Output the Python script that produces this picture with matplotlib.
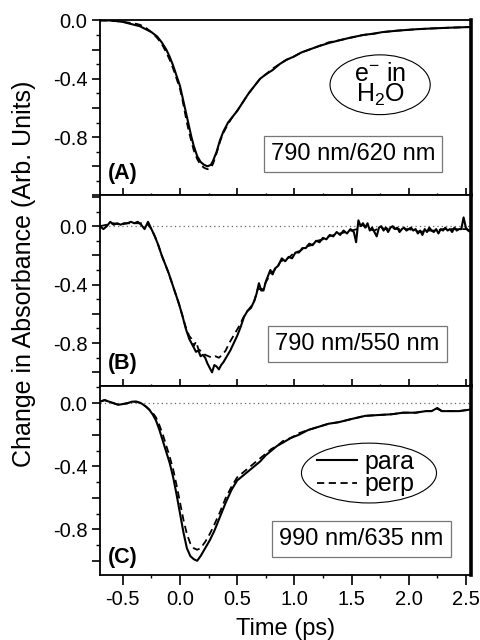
import matplotlib
matplotlib.use("Agg")
import matplotlib.pyplot as plt
from matplotlib.patches import Ellipse
from matplotlib.ticker import MultipleLocator, FuncFormatter

plt.rcParams["font.family"] = ["Liberation Sans", "DejaVu Sans"]
plt.rcParams["mathtext.default"] = "regular"
plt.rcParams["axes.unicode_minus"] = False

# ---- panel A: 790 nm / 620 nm ----
a_t_para = [-0.70, -0.62, -0.55, -0.50, -0.45, -0.40, -0.35, -0.30, -0.25, -0.20, -0.16, -0.12,
            -0.09, -0.06, -0.03, 0.00, 0.02, 0.04, 0.06, 0.08, 0.10, 0.12, 0.15, 0.18, 0.21, 0.24,
            0.27, 0.29, 0.32, 0.35, 0.38, 0.42, 0.46, 0.50, 0.55, 0.60, 0.65, 0.70, 0.75, 0.81,
            0.87, 0.93, 0.99, 1.06, 1.13, 1.20, 1.30, 1.40, 1.48, 1.60, 1.70, 1.77, 1.90, 2.07,
            2.20, 2.35, 2.54]
a_v_para = [0.00, 0.00, -0.005, -0.01, -0.02, -0.03, -0.04, -0.06, -0.08, -0.11, -0.15, -0.20,
            -0.25, -0.31, -0.38, -0.45, -0.52, -0.59, -0.66, -0.73, -0.80, -0.86, -0.93, -0.97,
            -0.99, -1.00, -0.99, -0.96, -0.90, -0.82, -0.76, -0.70, -0.66, -0.62, -0.56, -0.50,
            -0.45, -0.40, -0.37, -0.34, -0.30, -0.27, -0.25, -0.22, -0.20, -0.18, -0.155, -0.135,
            -0.12, -0.10, -0.09, -0.08, -0.07, -0.06, -0.055, -0.05, -0.045]
a_t_perp = [-0.70, -0.62, -0.55, -0.50, -0.45, -0.40, -0.35, -0.30, -0.25, -0.20, -0.16, -0.12,
            -0.09, -0.06, -0.03, 0.00, 0.02, 0.04, 0.06, 0.08, 0.10, 0.12, 0.15, 0.18, 0.21, 0.24,
            0.27, 0.29, 0.32, 0.35, 0.38, 0.42, 0.46, 0.50, 0.55, 0.60, 0.65, 0.70, 0.75, 0.81,
            0.87, 0.93, 0.99, 1.06, 1.13, 1.20, 1.30, 1.40, 1.48, 1.60, 1.70, 1.77, 1.90, 2.07,
            2.20, 2.35, 2.54]
a_v_perp = [0.00, 0.00, -0.005, -0.01, -0.015, -0.02, -0.03, -0.05, -0.08, -0.12, -0.16, -0.22,
            -0.27, -0.33, -0.40, -0.47, -0.54, -0.62, -0.70, -0.77, -0.83, -0.89, -0.95, -0.99,
            -1.01, -1.02, -1.01, -0.98, -0.91, -0.83, -0.77, -0.71, -0.66, -0.62, -0.56, -0.50,
            -0.45, -0.40, -0.37, -0.33, -0.30, -0.27, -0.25, -0.22, -0.20, -0.18, -0.15, -0.135,
            -0.12, -0.10, -0.09, -0.08, -0.07, -0.06, -0.055, -0.05, -0.045]

# ---- panel B: 790 nm / 550 nm ----
b_t_para = [-0.70, -0.67, -0.64, -0.61, -0.58, -0.55, -0.52, -0.49, -0.46, -0.43, -0.40, -0.37,
            -0.34, -0.31, -0.28, -0.25, -0.22, -0.19, -0.16, -0.13, -0.10, -0.07, -0.04, -0.01,
            0.02, 0.05, 0.08, 0.10, 0.12, 0.14, 0.16, 0.18, 0.20, 0.22, 0.24, 0.26, 0.28, 0.30,
            0.32, 0.34, 0.36, 0.38, 0.41, 0.44, 0.47, 0.50, 0.53, 0.56, 0.59, 0.62, 0.65, 0.67,
            0.69, 0.71, 0.73, 0.75, 0.77, 0.79, 0.81, 0.83, 0.86, 0.89, 0.92, 0.95, 0.98, 1.01,
            1.04, 1.07, 1.10, 1.13, 1.16, 1.19, 1.22, 1.25, 1.28, 1.31, 1.34, 1.37, 1.40, 1.43,
            1.46, 1.49, 1.52, 1.54, 1.56, 1.58, 1.60, 1.62, 1.64, 1.66, 1.68, 1.70, 1.72, 1.74,
            1.76, 1.78, 1.80, 1.82, 1.84, 1.86, 1.88, 1.90, 1.92, 1.94, 1.96, 1.98, 2.00, 2.02,
            2.04, 2.06, 2.08, 2.10, 2.12, 2.14, 2.16, 2.18, 2.20, 2.22, 2.24, 2.26, 2.28, 2.30,
            2.32, 2.34, 2.36, 2.38, 2.40, 2.42, 2.44, 2.46, 2.48, 2.50, 2.52, 2.54]
b_v_para = [0.00, -0.02, 0.00, 0.03, 0.01, 0.02, 0.01, 0.02, 0.02, 0.03, 0.02, 0.03,
            0.01, -0.02, 0.03, -0.02, -0.07, -0.13, -0.20, -0.26, -0.32, -0.39, -0.46, -0.53,
            -0.61, -0.70, -0.77, -0.80, -0.83, -0.86, -0.85, -0.89, -0.88, -0.90, -0.94, -0.97,
            -1.00, -0.95, -0.96, -0.98, -0.95, -0.93, -0.89, -0.85, -0.80, -0.75, -0.69, -0.62,
            -0.58, -0.56, -0.51, -0.46, -0.39, -0.44, -0.44, -0.38, -0.34, -0.30, -0.33, -0.29,
            -0.27, -0.22, -0.24, -0.21, -0.22, -0.18, -0.18, -0.15, -0.15, -0.12, -0.13, -0.10,
            -0.11, -0.08, -0.09, -0.06, -0.07, -0.04, -0.06, -0.03, -0.05, -0.02, -0.04, -0.11,
            0.04, 0.00, 0.02, -0.01, 0.02, -0.03, -0.01, -0.04, -0.07, -0.01, 0.00, -0.03,
            -0.01, -0.04, -0.01, 0.00, -0.02, -0.01, -0.04, -0.02, -0.01, -0.03, -0.02, -0.01,
            -0.03, -0.02, -0.05, -0.03, -0.06, -0.02, -0.04, -0.01, -0.03, -0.04, -0.02, -0.05,
            -0.02, -0.03, -0.01, -0.03, -0.02, -0.04, -0.01, -0.03, -0.02, -0.02, 0.06, -0.01,
            -0.03, -0.04]
b_t_perp = [-0.70, -0.64, -0.58, -0.52, -0.46, -0.40, -0.34, -0.28, -0.25, -0.22, -0.19, -0.16,
            -0.13, -0.10, -0.07, -0.04, -0.01, 0.02, 0.05, 0.08, 0.10, 0.12, 0.14, 0.16, 0.19,
            0.22, 0.25, 0.28, 0.31, 0.34, 0.37, 0.40, 0.43, 0.46, 0.49, 0.52, 0.55, 0.58, 0.62,
            0.65, 0.68, 0.72, 0.76, 0.80, 0.84, 0.88, 0.92, 0.96, 1.00, 1.05, 1.10, 1.15, 1.20,
            1.25, 1.30, 1.35, 1.40, 1.45, 1.50, 1.55, 1.60, 1.65, 1.70, 1.75, 1.80, 1.85, 1.90,
            1.95, 2.00, 2.05, 2.10, 2.15, 2.20, 2.25, 2.30, 2.35, 2.40, 2.45, 2.50, 2.54]
b_v_perp = [0.00, 0.01, 0.02, 0.01, 0.02, 0.02, 0.02, 0.01, -0.02, -0.07, -0.13, -0.20,
            -0.26, -0.32, -0.39, -0.46, -0.53, -0.61, -0.69, -0.75, -0.77, -0.82, -0.79, -0.84,
            -0.86, -0.88, -0.89, -0.90, -0.89, -0.90, -0.88, -0.85, -0.80, -0.76, -0.72, -0.68,
            -0.63, -0.59, -0.55, -0.51, -0.43, -0.43, -0.37, -0.32, -0.29, -0.24, -0.23, -0.21,
            -0.18, -0.17, -0.14, -0.13, -0.10, -0.09, -0.07, -0.06, -0.05, -0.04, -0.03, -0.02,
            0.01, -0.02, -0.03, -0.01, -0.02, -0.01, -0.02, -0.02, -0.02, -0.03, -0.04, -0.03,
            -0.03, -0.03, -0.02, -0.02, -0.02, -0.02, -0.02, -0.03]

# ---- panel C: 990 nm / 635 nm ----
c_t_para = [-0.70, -0.66, -0.62, -0.58, -0.54, -0.50, -0.46, -0.42, -0.38, -0.34, -0.30, -0.27,
            -0.24, -0.21, -0.18, -0.15, -0.12, -0.09, -0.06, -0.03, 0.00, 0.03, 0.06, 0.09, 0.12,
            0.15, 0.18, 0.22, 0.26, 0.30, 0.35, 0.40, 0.45, 0.50, 0.55, 0.60, 0.65, 0.70, 0.75,
            0.80, 0.85, 0.90, 0.97, 1.04, 1.12, 1.21, 1.30, 1.39, 1.50, 1.62, 1.73, 1.85, 1.95,
            2.06, 2.15, 2.20, 2.25, 2.29, 2.36, 2.44, 2.54]
c_v_para = [0.01, 0.02, 0.01, 0.00, -0.01, -0.005, 0.00, 0.01, 0.01, 0.00, -0.02, -0.04,
            -0.07, -0.11, -0.17, -0.24, -0.31, -0.38, -0.47, -0.58, -0.70, -0.82, -0.92, -0.97,
            -0.99, -1.00, -0.97, -0.92, -0.87, -0.81, -0.72, -0.63, -0.55, -0.49, -0.46, -0.43,
            -0.40, -0.37, -0.33, -0.30, -0.27, -0.25, -0.22, -0.20, -0.17, -0.15, -0.13, -0.12,
            -0.10, -0.08, -0.075, -0.07, -0.06, -0.06, -0.05, -0.05, -0.03, -0.05, -0.05, -0.05,
            -0.04]
c_t_perp = [-0.70, -0.66, -0.62, -0.58, -0.54, -0.50, -0.46, -0.42, -0.38, -0.34, -0.30, -0.27,
            -0.24, -0.21, -0.18, -0.15, -0.12, -0.09, -0.06, -0.03, 0.00, 0.03, 0.06, 0.09, 0.12,
            0.15, 0.18, 0.22, 0.26, 0.30, 0.35, 0.40, 0.45, 0.50, 0.55, 0.60, 0.65, 0.70, 0.75,
            0.80, 0.85, 0.90, 0.97, 1.04, 1.12, 1.21, 1.30, 1.39, 1.50, 1.62, 1.73, 1.85, 1.95,
            2.06, 2.15, 2.20, 2.25, 2.29, 2.36, 2.44, 2.54]
c_v_perp = [0.01, 0.02, 0.01, 0.00, -0.01, -0.005, 0.00, 0.01, 0.01, 0.00, -0.02, -0.04,
            -0.06, -0.09, -0.14, -0.20, -0.27, -0.34, -0.42, -0.52, -0.63, -0.74, -0.83, -0.89,
            -0.92, -0.93, -0.92, -0.88, -0.83, -0.77, -0.69, -0.60, -0.53, -0.47, -0.44, -0.41,
            -0.38, -0.35, -0.32, -0.29, -0.27, -0.24, -0.22, -0.19, -0.17, -0.15, -0.13, -0.12,
            -0.10, -0.08, -0.075, -0.07, -0.06, -0.06, -0.05, -0.05, -0.035, -0.05, -0.05, -0.05,
            -0.04]

panel_tags = ["(A)", "(B)", "(C)"]
wavelengths = ["790 nm/620 nm", "790 nm/550 nm", "990 nm/635 nm"]
xticks = [-0.5, 0.0, 0.5, 1.0, 1.5, 2.0, 2.5]
ylabels_shown = [0.0, -0.4, -0.8]

fig = plt.figure(figsize=(4.8, 6.4), dpi=100)
gs = fig.add_gridspec(3, 1, height_ratios=[176, 191, 189], hspace=0,
                      left=0.2083, right=0.9813, top=0.9692, bottom=0.1016)
axes = [fig.add_subplot(gs[i]) for i in range(3)]

data = [(a_t_para, a_v_para, a_t_perp, a_v_perp),
        (b_t_para, b_v_para, b_t_perp, b_v_perp),
        (c_t_para, c_v_para, c_t_perp, c_v_perp)]
ylims = [(-1.2, 0.005), (-1.095, 0.21), (-1.09, 0.108)]
tag_y = [0.125, 0.12, 0.095]
box_xy = [(0.682, 0.236), (0.694, 0.22), (0.705, 0.19)]

yfmt = FuncFormatter(lambda v, p: f"{v:.1f}" if any(abs(v - s) < 1e-6 for s in ylabels_shown) else "")
xfmt = FuncFormatter(lambda v, p: f"{v:.1f}")

for i, ax in enumerate(axes):
    tp, vp, tq, vq = data[i]
    if i > 0:
        ax.axhline(0, color="#666666", ls=(0, (1, 2.5)), lw=0.9, zorder=1)
    lp, = ax.plot(tp, vp, color="black", lw=1.5, label="para", zorder=3)
    lq, = ax.plot(tq, vq, color="black", lw=1.3, ls=(0, (4, 2.5)), label="perp", zorder=2)
    ax.set_xlim(-0.70, 2.545)
    ax.set_ylim(*ylims[i])

    ax.yaxis.set_major_locator(MultipleLocator(0.2))
    ax.yaxis.set_minor_locator(MultipleLocator(0.1))
    ax.yaxis.set_major_formatter(yfmt)
    ax.tick_params(axis="y", which="major", direction="out", length=6, width=1.2,
                   labelsize=14.5, pad=3, right=False)
    ax.tick_params(axis="y", which="minor", direction="out", length=3, width=1.0, right=False)

    ax.set_xticks(xticks)
    ax.xaxis.set_minor_locator(MultipleLocator(0.25))
    ax.xaxis.set_major_formatter(xfmt)
    if i < 2:
        ax.tick_params(axis="x", which="major", direction="inout", length=10, width=1.2,
                       labelbottom=False, top=False)
        ax.tick_params(axis="x", which="minor", direction="inout", length=3, width=1.0,
                       top=False)
    else:
        ax.tick_params(axis="x", which="major", direction="out", length=7, width=1.2,
                       labelsize=14.5, pad=4, top=False)
        ax.tick_params(axis="x", which="minor", direction="out", length=2.5, width=1.0,
                       top=False)

    for s in ["left", "bottom", "top"]:
        ax.spines[s].set_linewidth(1.3)
    ax.spines["right"].set_linewidth(2.6)

    ax.text(0.022, tag_y[i], panel_tags[i], transform=ax.transAxes, fontsize=15.5,
            fontweight="bold", ha="left", va="center")
    ax.text(box_xy[i][0], box_xy[i][1], wavelengths[i], transform=ax.transAxes,
            fontsize=17, ha="center", va="center",
            bbox=dict(boxstyle="square,pad=0.3", fc="white", ec="#777777", lw=0.9))

    if i == 2:
        ax.add_patch(Ellipse((0.725, 0.54), 0.364, 0.317, transform=ax.transAxes,
                             fill=False, ec="black", lw=0.8))
        ax.legend(handles=[lp, lq], loc="center", bbox_to_anchor=(0.715, 0.54),
                  frameon=False, fontsize=18, handlelength=1.6, handletextpad=0.3,
                  labelspacing=-0.05, borderpad=0.1)

axes[0].add_patch(Ellipse((0.755, 0.63), 0.27, 0.34, transform=axes[0].transAxes,
                          fill=False, ec="black", lw=0.8))
axes[0].text(0.755, 0.63, "e$^{-}$ in\nH$_2$O", transform=axes[0].transAxes,
             fontsize=18, ha="center", va="center", linespacing=0.8)

axes[2].set_xlabel("Time (ps)", fontsize=17, labelpad=6)
fig.text(0.05, 0.572, "Change in Absorbance (Arb. Units)", rotation=90,
         fontsize=18, ha="center", va="center")

fig.savefig("out.png", dpi=100)
